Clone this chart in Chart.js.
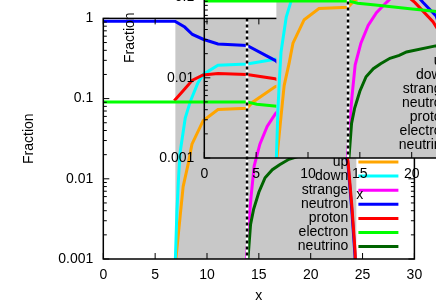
<!DOCTYPE html>
<html><head><meta charset="utf-8">
<script src="https://cdn.jsdelivr.net/npm/chart.js@4"></script>
<style>
html,body{margin:0;padding:0;background:#fff;overflow:hidden;width:436px;height:305px}
#wrap{position:relative;width:436px;height:305px;overflow:hidden;background:#fff}
canvas{position:absolute}
#c0{left:0;top:0}
#c1{left:101px;top:-101px}
</style></head><body>
<div id="wrap"><canvas id="c0" width="436" height="305"></canvas><canvas id="c1" width="436" height="305"></canvas></div>
<script>
// ---- data ----
const seriesNames = ['up','down','strange','neutron','proton','electron','neutrino'];
const xTickValues = [0,5,10,15,20,25,30];
const yTickValues = [0.001,0.01,0.1,1];
const yTickLabels = ['0.001','0.01','0.1','1'];
const shadeRange = [6.95, 24.4];
const dashedAt = [13.86];

const upX = [6.9, 7.0, 7.4, 7.7, 8.17, 8.55, 9.63, 11.06, 13.86, 14.4, 16.56, 20, 24.4, 30];
const upY = [0.0005, 0.001, 0.0033, 0.008, 0.015, 0.027, 0.053, 0.073, 0.076, 0.09, 0.14, 0.2, 0.25, 0.3];
const downX = [6.8, 6.95, 7.1, 7.25, 7.4, 7.9, 8.4, 9.1, 9.63, 11.06, 13.86, 16.56, 20, 24.4, 30];
const downY = [0.0005, 0.001, 0.004, 0.01, 0.021, 0.057, 0.093, 0.155, 0.2, 0.26, 0.27, 0.31, 0.34, 0.37, 0.38];
const strangeX = [13.7, 13.8, 14.0, 14.25, 14.55, 15.1, 15.8, 16.6, 17.6, 19, 22, 24.4, 30];
const strangeY = [0.0005, 0.001, 0.0025, 0.006, 0.0145, 0.027, 0.045, 0.065, 0.088, 0.13, 0.2, 0.25, 0.3];
const neutronX = [0, 6.9, 7.85, 8.6, 9.63, 11.06, 13.86, 16.56, 18.5, 20, 21.1, 22.35, 23.0, 23.6, 23.98, 24.27, 24.4];
const neutronY = [0.92, 0.92, 0.78, 0.63, 0.55, 0.48, 0.46, 0.30, 0.19, 0.125, 0.087, 0.059, 0.035, 0.015, 0.0038, 0.0011, 0.0004];
const protonX = [6.84, 7.7, 8.6, 9.63, 11.06, 13.86, 16.56, 18.5, 20.3, 22.05, 23.0, 23.6, 23.98, 24.27, 24.4];
const protonY = [0.094, 0.125, 0.17, 0.197, 0.205, 0.2, 0.177, 0.135, 0.087, 0.05, 0.032, 0.0166, 0.0044, 0.0013, 0.0005];
const electronX = [0, 13.86, 14.8, 16.5, 19.6, 22.4, 25, 30];
const electronY = [0.091, 0.091, 0.085, 0.081, 0.073, 0.067, 0.062, 0.055];
const neutrinoX = [13.85, 13.95, 14.2, 14.5, 15.0, 15.6, 16.3, 17.0, 17.9, 18.8, 19.5, 22.3, 26, 30];
const neutrinoY = [0.0006, 0.001, 0.0027, 0.0042, 0.0068, 0.0103, 0.013, 0.015, 0.0175, 0.019, 0.021, 0.025, 0.028, 0.03];

const seriesX = [upX, downX, strangeX, neutronX, protonX, electronX, neutrinoX];
const seriesY = [upY, downY, strangeY, neutronY, protonY, electronY, neutrinoY];
const seriesColors = ['#ffa500','#00ffff','#ff00ff','#0000ff','#ff0000','#00ff00','#006400'];

const FONT = "'Liberation Sans', Arial, Helvetica, sans-serif";
Chart.defaults.color = '#000';
Chart.defaults.font.family = FONT;
Chart.defaults.font.size = 14;

const gnuplotLook = {
  id: 'gnuplotLook',
  beforeDatasetsDraw(chart) {
    const {ctx, chartArea: a, scales: {x}} = chart;
    ctx.save();
    ctx.fillStyle = '#c8c8c8';
    const x0 = x.getPixelForValue(shadeRange[0]);
    const x1 = x.getPixelForValue(shadeRange[1]);
    ctx.fillRect(x0, a.top, x1 - x0, a.bottom - a.top);
    ctx.restore();
  },
  afterDatasetsDraw(chart) {
    const {ctx, chartArea: a, scales: {x, y}} = chart;
    ctx.save();
    // dashed boundary
    dashedAt.forEach(v => {
      const px = x.getPixelForValue(v);
      ctx.lineWidth = 2.5;
      ctx.setLineDash([]);
      ctx.strokeStyle = '#fff';
      ctx.beginPath(); ctx.moveTo(px, a.top); ctx.lineTo(px, a.bottom); ctx.stroke();
      ctx.strokeStyle = '#000';
      ctx.setLineDash([3, 3]);
      ctx.beginPath(); ctx.moveTo(px, a.top); ctx.lineTo(px, a.bottom); ctx.stroke();
    });
    ctx.setLineDash([]);
    ctx.strokeStyle = '#000';
    ctx.lineWidth = 1.5;
    ctx.strokeRect(a.left, a.top, a.right - a.left, a.bottom - a.top);
    ctx.lineWidth = 1;
    ctx.beginPath();
    xTickValues.forEach(v => {
      const px = x.getPixelForValue(v);
      ctx.moveTo(px, a.bottom); ctx.lineTo(px, a.bottom - 6);
      ctx.moveTo(px, a.top); ctx.lineTo(px, a.top + 6);
    });
    for (let d = 0; d < yTickValues.length; d++) {
      const base = yTickValues[d];
      const py = y.getPixelForValue(base);
      ctx.moveTo(a.left, py); ctx.lineTo(a.left + 6, py);
      ctx.moveTo(a.right, py); ctx.lineTo(a.right - 6, py);
      if (d < yTickValues.length - 1) {
        for (let m = 2; m <= 9; m++) {
          const pm = y.getPixelForValue(base * m);
          ctx.moveTo(a.left, pm); ctx.lineTo(a.left + 3.5, pm);
          ctx.moveTo(a.right, pm); ctx.lineTo(a.right - 3.5, pm);
        }
      }
    }
    ctx.stroke();
    // key
    ctx.font = '14px ' + FONT;
    ctx.textAlign = 'right';
    ctx.textBaseline = 'middle';
    seriesNames.forEach((name, i) => {
      const ly = a.bottom - 97 + 14.1 * i;
      ctx.fillStyle = '#000';
      ctx.fillText(name, a.right - 66, ly);
      ctx.strokeStyle = seriesColors[i];
      ctx.lineWidth = 3;
      ctx.beginPath(); ctx.moveTo(a.right - 56, ly); ctx.lineTo(a.right - 16, ly); ctx.stroke();
    });
    ctx.restore();
  }
};

function build(id) {
  const datasets = seriesNames.map((name, i) => ({
    label: name,
    data: seriesX[i].map((xv, k) => ({x: xv, y: seriesY[i][k]})),
    borderColor: seriesColors[i],
    borderWidth: 3,
    pointRadius: 0,
    tension: 0,
    fill: false,
    order: seriesNames.length - i
  }));
  return new Chart(document.getElementById(id), {
    type: 'line',
    data: {datasets},
    options: {
      responsive: false,
      animation: false,
      devicePixelRatio: 1,
      layout: {padding: {left: 0, top: 16, right: 21.6, bottom: 0}},
      plugins: {legend: {display: false}, tooltip: {enabled: false}},
      scales: {
        x: {
          type: 'linear', min: 0, max: 30,
          grid: {display: false, drawTicks: false},
          border: {display: false},
          ticks: {stepSize: 5, padding: 7.5, autoSkip: false, maxRotation: 0},
          title: {display: true, text: 'x', padding: {top: 0, bottom: 0.6}},
          afterFit: s => { s.height = 46; }
        },
        y: {
          type: 'logarithmic', min: 0.001, max: 1,
          grid: {display: false, drawTicks: false},
          border: {display: false},
          afterBuildTicks: s => { s.ticks = yTickValues.map(v => ({value: v})); },
          ticks: {padding: 10, autoSkip: false,
            callback: (v) => { const k = yTickValues.indexOf(v); return k >= 0 ? yTickLabels[k] : ''; }},
          title: {display: true, text: 'Fraction', padding: {top: 20.6, bottom: 0}},
          afterFit: s => { s.width = 103.3; }
        }
      }
    },
    plugins: [gnuplotLook]
  });
}
build('c0');
build('c1');
</script>
</body></html>
